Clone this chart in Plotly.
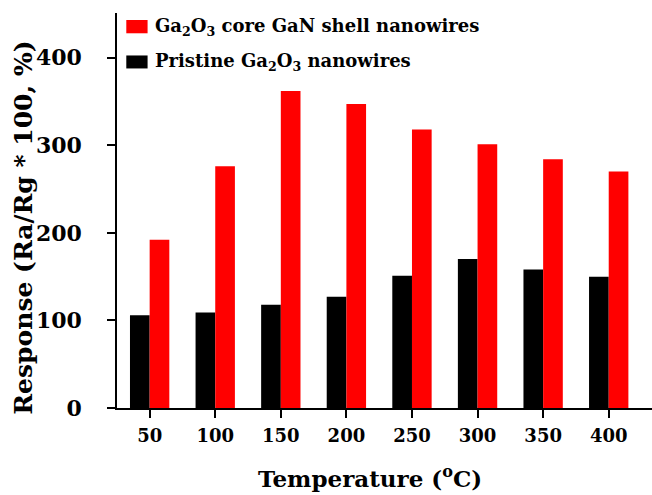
import plotly.graph_objects as go

# ---- data ----
temperatures = [50, 100, 150, 200, 250, 300, 350, 400]
pristine = [106, 109, 118, 127, 151, 170, 158, 150]
core_shell = [192, 276, 362, 347, 318, 301, 284, 270]
series_names = ["Ga<sub>2</sub>O<sub>3</sub> core GaN shell nanowires",
                "Pristine Ga<sub>2</sub>O<sub>3</sub> nanowires"]
series_colors = ["#ff0000", "#000000"]
y_ticks = [0, 100, 200, 300, 400]
x_title = "Temperature (<sup>o</sup>C)"
y_title = "Response (Ra/Rg * 100, %)"

W, H = 652, 495
L, R, T, B = 116.7, 0, 13, 86.7
PW, PH = W - L - R, H - T - B

def px(xp):
    return (xp - L) / PW

def py(yp):
    return (H - B - yp) / PH

FONT = "DejaVu Serif"

fig = go.Figure()
fig.add_trace(go.Bar(x=temperatures, y=pristine, name=series_names[1],
                     marker=dict(color=series_colors[1], line=dict(width=0)),
                     showlegend=False))
fig.add_trace(go.Bar(x=temperatures, y=core_shell, name=series_names[0],
                     marker=dict(color=series_colors[0], line=dict(width=0)),
                     showlegend=False))

fig.update_layout(
    width=W, height=H,
    margin=dict(l=L, r=R, t=T, b=B, pad=0),
    paper_bgcolor="white", plot_bgcolor="white",
    barmode="group", bargap=0.4, bargroupgap=0,
    font=dict(family=FONT, color="black"),
)
fig.update_xaxes(
    range=[25.1, 433], tickvals=temperatures, ticktext=[str(t) for t in temperatures],
    showgrid=False, zeroline=False, showline=True, linecolor="black", linewidth=1.5,
    ticks="outside", ticklen=8, tickwidth=1.5, tickcolor="black",
    tickfont=dict(family=FONT, size=18, color="black", weight="bold"),
    ticklabelstandoff=3,
)
fig.update_yaxes(
    range=[0, 451], tickvals=y_ticks, ticktext=[str(t) for t in y_ticks],
    showgrid=False, zeroline=False, showline=True, linecolor="black", linewidth=1.5,
    ticks="outside", ticklen=8, tickwidth=1.5, tickcolor="black",
    tickfont=dict(family=FONT, size=22, color="black", weight="bold"),
    ticklabelstandoff=21,
)

annotations = [
    dict(text="<b>" + x_title + "</b>", xref="paper", yref="paper",
         x=px(369.5), y=py(477), xanchor="center", yanchor="middle",
         showarrow=False, font=dict(family=FONT, size=23, color="black")),
    dict(text="<b>" + y_title + "</b>", xref="paper", yref="paper",
         x=px(23.5), y=py(228), xanchor="center", yanchor="middle", textangle=-90,
         showarrow=False, font=dict(family=FONT, size=25, color="black")),
]
shapes = []
legend_rows = [(20, 33.3, 27), (55.5, 68.5, 62)]
for name, color, (y0, y1, yc) in zip(series_names, series_colors, legend_rows):
    shapes.append(dict(type="rect", xref="paper", yref="paper",
                       x0=px(126), x1=px(147.3), y0=py(y1), y1=py(y0),
                       fillcolor=color, line=dict(width=0)))
    annotations.append(dict(text="<b>" + name + "</b>", xref="paper", yref="paper",
                            x=px(153), y=py(yc), xanchor="left", yanchor="middle",
                            showarrow=False,
                            font=dict(family=FONT, size=18, color="black")))
fig.update_layout(annotations=annotations, shapes=shapes)

fig.write_html("out.html")
